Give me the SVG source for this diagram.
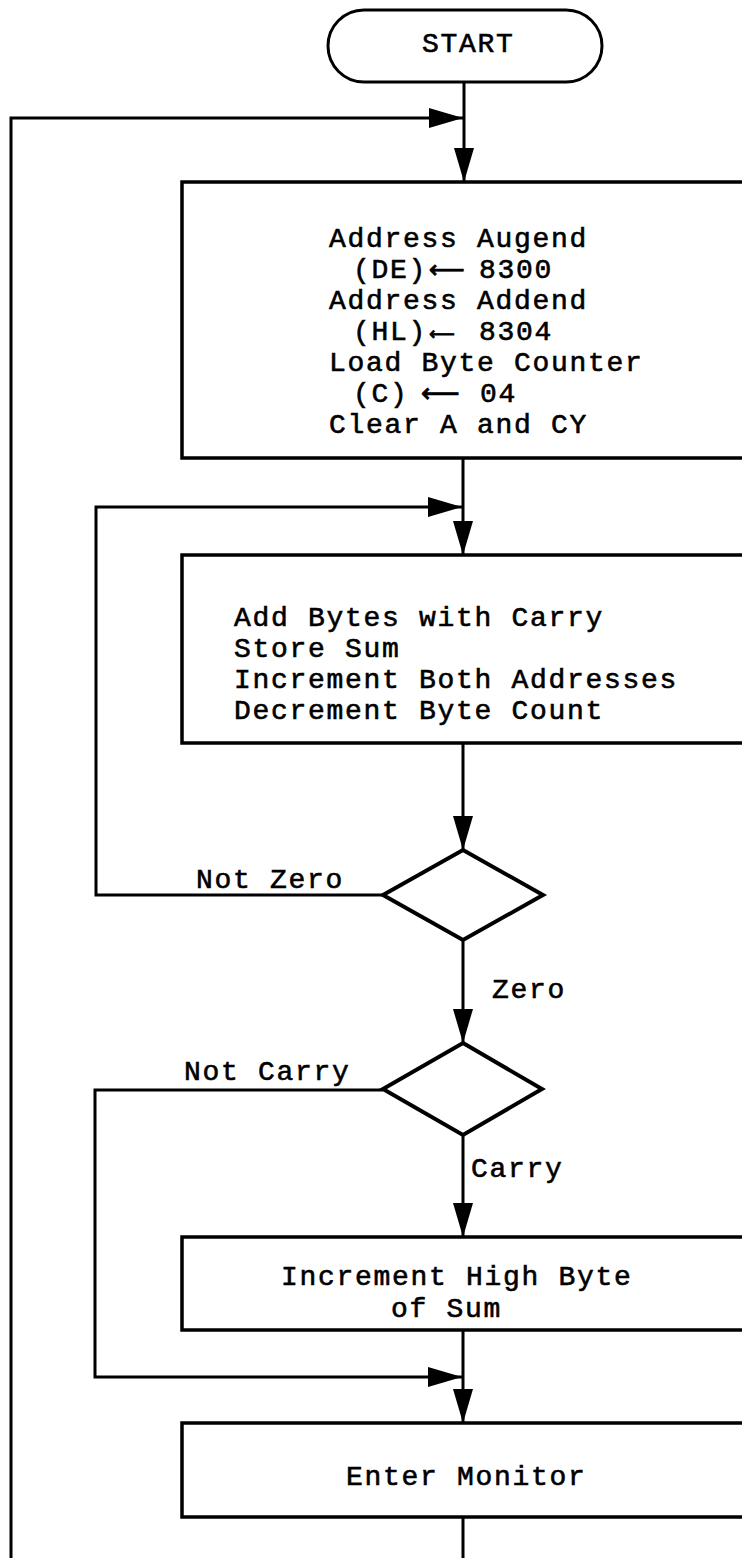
<svg xmlns="http://www.w3.org/2000/svg" width="742" height="1558" viewBox="0 0 742 1558">
<style>
.box{fill:#fff;stroke:#000;stroke-width:3.5}
.dec{fill:#fff;stroke:#000;stroke-width:4;stroke-linejoin:miter}
.ln{fill:none;stroke:#000;stroke-width:3}
.t{font-family:"Liberation Mono","DejaVu Sans Mono",monospace;font-size:28px;letter-spacing:1.7px;fill:#000;stroke:#000;stroke-width:0.6}
.ar{font-family:"DejaVu Sans",sans-serif;letter-spacing:0;stroke-width:0.8}
</style>
<defs>
<marker id="ah" markerUnits="userSpaceOnUse" markerWidth="34" markerHeight="20" refX="34" refY="10" orient="auto">
<path d="M0,0 L34,10 L0,20 Z" fill="#000"/>
</marker>
</defs>
<rect width="742" height="1558" fill="#fff"/>
<g id="connectors">
<path class="ln" d="M464,82 V182" marker-end="url(#ah)"/>
<path class="ln" d="M11,1558 V118 H463" marker-end="url(#ah)"/>
<path class="ln" d="M463,458 V555" marker-end="url(#ah)"/>
<path class="ln" d="M383,895 H96 V507 H462" marker-end="url(#ah)"/>
<path class="ln" d="M463,743 V850" marker-end="url(#ah)"/>
<path class="ln" d="M463,940 V1043" marker-end="url(#ah)"/>
<path class="ln" d="M383,1090 H95 V1377 H462" marker-end="url(#ah)"/>
<path class="ln" d="M463,1135 V1237" marker-end="url(#ah)"/>
<path class="ln" d="M463,1330 V1423" marker-end="url(#ah)"/>
<path class="ln" d="M463,1517 V1558"/>
<text class="t" x="196" y="888">Not Zero</text>
<text class="t" x="492" y="998">Zero</text>
<text class="t" x="184" y="1080">Not Carry</text>
<text class="t" x="471" y="1177">Carry</text>
</g>
<g id="start">
<rect class="box" x="328" y="10" width="274" height="72" rx="36" ry="36" style="stroke-width:3"/>
<text class="t" x="422" y="52">START</text>
</g>
<g id="init">
<rect class="box" x="182" y="182" width="580" height="276"/>
<text class="t" x="329" y="247">Address Augend</text>
<text class="t" y="278"><tspan x="353">(DE)</tspan><tspan class="ar" x="429" font-size="25">⟵</tspan><tspan x="479">8300</tspan></text>
<text class="t" x="329" y="309">Address Addend</text>
<text class="t" y="340"><tspan x="353">(HL)</tspan><tspan class="ar" x="429" font-size="18">⟵</tspan><tspan x="479">8304</tspan></text>
<text class="t" x="329" y="371">Load Byte Counter</text>
<text class="t" y="402"><tspan x="353">(C)</tspan><tspan class="ar" x="421" font-size="27">⟵</tspan><tspan x="480">04</tspan></text>
<text class="t" x="329" y="433">Clear A and CY</text>
</g>
<g id="add">
<rect class="box" x="182" y="555" width="580" height="188"/>
<text class="t" x="234" y="626">Add Bytes with Carry</text>
<text class="t" x="234" y="657">Store Sum</text>
<text class="t" x="234" y="688">Increment Both Addresses</text>
<text class="t" x="234" y="719">Decrement Byte Count</text>
</g>
<g id="zero-test">
<polygon class="dec" points="463,850 543,895 463,940 383,895"/>
</g>
<g id="carry-test">
<polygon class="dec" points="463,1043 542,1089 463,1135 383,1089"/>
</g>
<g id="inc-high">
<rect class="box" x="182" y="1237" width="580" height="93"/>
<text class="t" x="281" y="1285">Increment High Byte</text>
<text class="t" x="391" y="1317">of Sum</text>
</g>
<g id="monitor">
<rect class="box" x="182" y="1423" width="580" height="94"/>
<text class="t" x="346" y="1485">Enter Monitor</text>
</g>
</svg>
